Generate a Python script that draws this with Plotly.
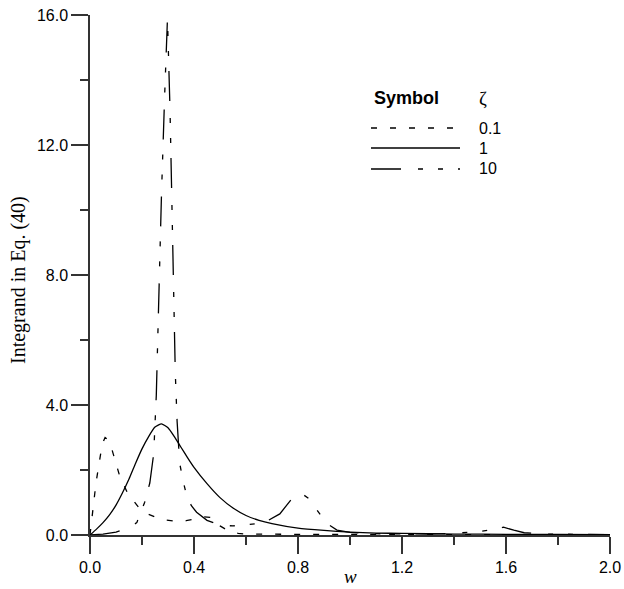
import plotly.graph_objects as go

# zeta = 0.1
w_01 = [0, 0.01, 0.023, 0.04, 0.05, 0.058, 0.07, 0.08, 0.092, 0.114, 0.145, 0.19, 0.22, 0.255, 0.29, 0.33, 0.37, 0.40, 0.44, 0.465, 0.48, 0.50, 0.53, 0.57, 0.60, 0.8, 1.0, 1.2, 1.6, 2.0]
y_01 = [0, 0.65, 1.6, 2.45, 2.85, 3.0, 2.92, 2.75, 2.4, 1.82, 1.28, 0.82, 0.65, 0.54, 0.46, 0.42, 0.44, 0.5, 0.56, 0.54, 0.4, 0.28, 0.14, 0.05, 0.03, 0.02, 0.02, 0.01, 0.01, 0.005]

# zeta = 1
w_1 = [0, 0.025, 0.05, 0.075, 0.1, 0.125, 0.15, 0.175, 0.2, 0.225, 0.25, 0.275, 0.3, 0.325, 0.35, 0.375, 0.4, 0.45, 0.5, 0.55, 0.6, 0.65, 0.7, 0.8, 0.9, 1.0, 1.1, 1.2, 1.4, 1.6, 1.8, 2.0]
y_1 = [0, 0.18, 0.38, 0.62, 0.92, 1.3, 1.72, 2.2, 2.65, 3.02, 3.32, 3.42, 3.3, 3.02, 2.7, 2.38, 2.08, 1.58, 1.15, 0.83, 0.6, 0.45, 0.35, 0.21, 0.14, 0.09, 0.06, 0.05, 0.03, 0.02, 0.015, 0.01]

# zeta = 10
w_10 = [0, 0.05, 0.1, 0.115, 0.15, 0.18, 0.21, 0.23, 0.245, 0.255, 0.265, 0.275, 0.287, 0.298, 0.308, 0.315, 0.32, 0.328, 0.335, 0.345, 0.36, 0.372, 0.39, 0.41, 0.45, 0.5, 0.55, 0.6, 0.67, 0.73, 0.78, 0.81, 0.84, 0.875, 0.91, 0.95, 1.0, 1.1, 1.2, 1.3, 1.4, 1.45, 1.5, 1.55, 1.59, 1.63, 1.67, 1.75, 1.85, 2.0]
y_10 = [0, 0.03, 0.09, 0.13, 0.22, 0.38, 1.0, 1.6, 2.5, 4.3, 7.5, 10.5, 13.5, 15.9, 13.0, 10.0, 7.5, 5.0, 3.5, 2.2, 1.6, 1.2, 0.9, 0.7, 0.45, 0.3, 0.28, 0.31, 0.38, 0.65, 1.15, 1.3, 1.13, 0.75, 0.36, 0.15, 0.08, 0.04, 0.03, 0.03, 0.05, 0.07, 0.11, 0.17, 0.24, 0.15, 0.07, 0.03, 0.02, 0.01]

zeta_labels = ["0.1", "1", "10"]
x_ticks = [0.0, 0.4, 0.8, 1.2, 1.6, 2.0]
y_ticks = [0.0, 4.0, 8.0, 12.0, 16.0]

dash_01 = "6px,13px"
dash_10 = "30px,17px,5px,15px,5px,15px"
dashes = [dash_01, "solid", dash_10]
LW = 1.3

fig = go.Figure()
fig.add_trace(go.Scatter(x=w_01, y=y_01, mode="lines", line=dict(color="black", width=LW, dash=dash_01)))
fig.add_trace(go.Scatter(x=w_1, y=y_1, mode="lines", line=dict(color="black", width=LW, shape="spline", smoothing=0.5)))
fig.add_trace(go.Scatter(x=w_10, y=y_10, mode="lines", line=dict(color="black", width=LW, dash=dash_10)))

W, H = 624, 589
ml, mr, mt, mb = 90, 14, 15, 54
pw, ph = W - ml - mr, H - mt - mb

def px(x):
    return (x - ml) / pw

def py(y):
    return (H - mb - y) / ph

shapes = []
annotations = []
leg_y = [128, 148, 169]
for lbl, d, yy in zip(zeta_labels, dashes, leg_y):
    shapes.append(dict(type="line", xref="paper", yref="paper", x0=px(371), x1=px(460), y0=py(yy), y1=py(yy),
                       line=dict(color="black", width=LW, dash=d)))
    annotations.append(dict(text=lbl, xref="paper", yref="paper", x=px(477), y=py(yy), xanchor="left", yanchor="middle",
                            showarrow=False, font=dict(family="Liberation Sans, Arial", size=16, color="black")))
annotations.append(dict(text="<b>Symbol</b>", xref="paper", yref="paper", x=px(372), y=py(98), xanchor="left", yanchor="middle",
                        showarrow=False, font=dict(family="Liberation Sans, Arial", size=18, color="black")))
annotations.append(dict(text="ζ", xref="paper", yref="paper", x=px(483), y=py(99), xanchor="center", yanchor="middle",
                        showarrow=False, font=dict(family="Liberation Serif, Times New Roman", size=19, color="black")))
annotations.append(dict(text="<i>w</i>", xref="paper", yref="paper", x=0.5, y=py(576), xanchor="center", yanchor="middle",
                        showarrow=False, font=dict(family="Liberation Serif, Times New Roman", size=19, color="black")))
annotations.append(dict(text="Integrand in Eq. (40)", xref="paper", yref="paper", x=px(18), y=py(280), xanchor="center", yanchor="middle",
                        textangle=-90, showarrow=False, font=dict(family="Liberation Serif, Times New Roman", size=20, color="black")))

axis_common = dict(showgrid=False, zeroline=False, showline=True, linecolor="#333333", linewidth=1.5,
                   ticks="outside", ticklen=17, tickwidth=1.5, tickcolor="#333333", automargin=False,
                   tickfont=dict(family="Liberation Sans, Arial", size=16, color="black"),
                   tickformat=".1f")

fig.update_layout(
    width=W, height=H,
    margin=dict(l=ml, r=mr, t=mt, b=mb),
    plot_bgcolor="white", paper_bgcolor="white",
    showlegend=False,
    shapes=shapes, annotations=annotations,
    xaxis=dict(range=[0, 2], tickvals=x_ticks, **axis_common,
               minor=dict(dtick=0.2, ticks="outside", ticklen=8, tickwidth=1.5, tickcolor="#333333", showgrid=False)),
    yaxis=dict(range=[0, 16], tickvals=y_ticks, **axis_common,
               minor=dict(dtick=2, ticks="outside", ticklen=8, tickwidth=1.5, tickcolor="#333333", showgrid=False)),
)

fig.write_html("out.html", config={"displayModeBar": False},
               post_script="document.body.style.margin='0';document.body.style.overflow='hidden';")
